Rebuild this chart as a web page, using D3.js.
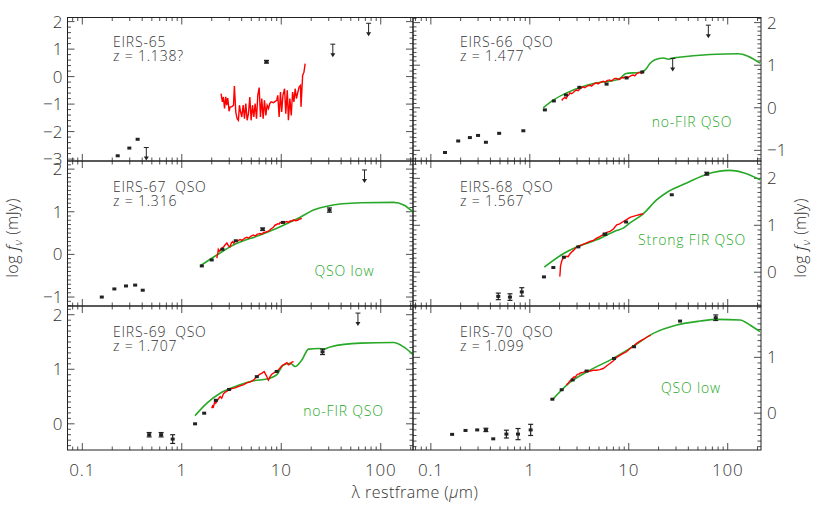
<!DOCTYPE html>
<html lang="en">
<head>
<meta charset="UTF-8">
<title>EIRS QSO SEDs</title>
<script src="https://d3js.org/d3.v7.min.js"></script>
<style>
  body { margin: 0; background: #fff; }
  svg { display: block; }
  text { font-family: "Open Sans", "DejaVu Sans", sans-serif; font-weight: 300; fill: #333; white-space: pre; }
</style>
</head>
<body>
<svg id="chart" width="817" height="523"></svg>
<script>
// ---- data (wavelength in micron, log f_nu in mJy) ----
const names = ["EIRS-65", "EIRS-66  QSO", "EIRS-67  QSO", "EIRS-68  QSO", "EIRS-69  QSO", "EIRS-70  QSO"];
const redshifts = ["z = 1.138?", "z = 1.477", "z = 1.316", "z = 1.567", "z = 1.707", "z = 1.099"];
const modelNames = [null, "no-FIR QSO", "QSO low", "Strong FIR QSO", "no-FIR QSO", "QSO low"];
const yDomains = [[-3.07, 2.15], [-1.25, 2.12], [-1.21, 2.19], [-0.72, 2.37], [-0.48, 2.16], [-0.66, 1.92]];
const yLabels = [[2, 1, 0, -1, -2, -3], [2, 1, 0, -1], [2, 1, 0, -1], [2, 1, 0], [2, 1, 0], [1, 0]];
const yMinor = [0.2, 0.1, 0.1, 0.1, 0.1, 0.1];
const xTickLabels = ["0.1", "1", "10", "100"];

// photometry
const photLam65 = [0.227, 0.297, 0.36, 7.1];
const photVal65 = [-2.88, -2.60, -2.28, 0.54];
const photErr65 = [0, 0, 0, 0.05];
const limLam65 = [0.44, 33, 75.5];
const limVal65 = [-2.58, 1.18, 1.94];

const photLam66 = [0.139, 0.189, 0.248, 0.30, 0.36, 0.49, 0.86, 1.42, 1.75, 2.32, 3.17, 5.97, 9.5, 13.7];
const photVal66 = [-1.05, -0.78, -0.70, -0.65, -0.81, -0.60, -0.54, -0.05, 0.16, 0.30, 0.48, 0.555, 0.70, 0.84];
const photErr66 = [0, 0, 0, 0, 0, 0, 0, 0, 0, 0, 0, 0, 0, 0];
const limLam66 = [27.8, 63.7];
const limVal66 = [1.16, 1.94];

const photLam67 = [0.157, 0.21, 0.275, 0.34, 0.405, 1.59, 2.0, 2.56, 3.49, 6.5, 10.4, 30.5];
const photVal67 = [-1.0, -0.81, -0.74, -0.72, -0.84, -0.27, -0.13, 0.12, 0.32, 0.59, 0.75, 1.04];
const photErr67 = [0, 0, 0, 0, 0, 0, 0, 0, 0, 0.03, 0, 0.05];
const limLam67 = [68.7];
const limVal67 = [1.98];

const photLam68 = [0.48, 0.63, 0.83, 1.39, 1.73, 2.21, 3.09, 5.75, 9.4, 27.2, 61.4];
const photVal68 = [-0.515, -0.53, -0.42, -0.10, 0.10, 0.32, 0.54, 0.81, 1.07, 1.65, 2.10];
const photErr68 = [0.07, 0.07, 0.09, 0, 0, 0, 0, 0.02, 0, 0, 0.03];
const limLam68 = [];
const limVal68 = [];

const photLam69 = [0.47, 0.62, 0.81, 1.36, 1.68, 2.2, 2.99, 5.68, 9.0, 26];
const photVal69 = [-0.20, -0.20, -0.28, 0.0, 0.195, 0.43, 0.63, 0.865, 0.96, 1.32];
const photErr69 = [0.04, 0.04, 0.08, 0, 0, 0, 0, 0, 0, 0.05];
const limLam69 = [59];
const limVal69 = [2.03];

const photLam70 = [0.164, 0.224, 0.294, 0.36, 0.427, 0.58, 0.76, 1.02, 1.69, 2.1, 2.71, 3.76, 7.1, 11.3, 33, 75.7];
const photVal70 = [-0.38, -0.31, -0.30, -0.30, -0.46, -0.375, -0.375, -0.30, 0.25, 0.42, 0.595, 0.755, 0.98, 1.19, 1.65, 1.71];
const photErr70 = [0, 0, 0, 0.03, 0, 0.07, 0.1, 0.1, 0, 0, 0, 0, 0, 0, 0, 0.05];
const limLam70 = [];
const limVal70 = [];

// IRS spectra (red)
const specLam65 = [2.48, 2.56, 2.62, 2.69, 2.77, 2.83, 2.90, 2.99, 3.06, 3.18, 3.31, 3.38, 3.49, 3.60, 3.71, 3.80, 3.89, 4.01,
  4.14, 4.27, 4.40, 4.54, 4.68, 4.83, 4.98, 5.14, 5.30, 5.46, 5.64, 5.81, 6.00, 6.18, 6.37, 6.58, 6.78, 7.00, 7.21, 7.44,
  7.67, 7.91, 8.35, 8.68, 9.02, 9.23, 9.52, 9.82, 10.1, 10.4, 10.8, 11.1, 11.5, 11.8, 12.2, 12.6, 13.0, 13.4, 13.8, 14.2,
  14.7, 15.1, 15.6, 15.8, 16.4, 16.9, 17.4];
const specVal65 = [-0.62, -0.92, -0.74, -1.16, -0.74, -1.04, -0.78, -1.26, -1.10, -1.10, -1.04, -0.34, -1.29, -1.53, -1.59,
  -1.04, -1.26, -1.47, -1.04, -1.53, -0.98, -1.59, -1.35, -0.74, -1.59, -1.04, -1.47, -0.98, -1.53, -0.68, -0.40, -1.47,
  -0.80, -1.53, -0.86, -1.41, -1.04, -1.16, -0.98, -0.92, -0.95, -0.90, -0.86, -0.68, -1.47, -0.56, -1.29, -0.68, -0.44,
  -1.35, -0.50, -1.59, -0.80, -1.41, -0.56, -0.92, -0.44, -0.80, -0.56, -0.38, -0.32, -1.10, 0.04, 0.16, 0.47];
const specLam66 = [2.10, 2.18, 2.25, 2.33, 2.40, 2.47, 2.54, 2.64, 2.75, 2.86, 2.97, 3.08, 3.20, 3.33, 3.47, 3.6, 3.75, 3.9, 4.05, 4.2, 4.40, 4.55, 4.73, 4.9, 5.10, 5.3, 5.52, 5.75, 6.0, 6.2, 6.46, 6.7, 7.0, 7.25, 7.55, 7.9, 8.2, 8.5, 8.8, 9.1, 9.5, 9.9, 10.3, 10.7, 11.1, 11.5, 12.0, 12.5, 13.0, 13.5, 14.0];
const specVal66 = [0.17, 0.22, 0.24, 0.22, 0.28, 0.30, 0.35, 0.33, 0.36, 0.40, 0.415, 0.40, 0.44, 0.47, 0.49, 0.47, 0.50, 0.52, 0.53, 0.51, 0.55, 0.57, 0.585, 0.56, 0.59, 0.61, 0.625, 0.60, 0.63, 0.65, 0.65, 0.63, 0.67, 0.69, 0.69, 0.66, 0.68, 0.71, 0.70, 0.72, 0.73, 0.71, 0.74, 0.76, 0.77, 0.75, 0.80, 0.82, 0.83, 0.81, 0.86];
const specLam67 = [2.25, 2.30, 2.33, 2.40, 2.45, 2.53, 2.62, 2.72, 2.84, 2.95, 3.06, 3.15, 3.25, 3.34, 3.44, 3.6, 3.86, 4.0, 4.20, 4.35, 4.51, 4.7, 4.9, 5.1, 5.25, 5.5, 5.7, 5.9, 6.14, 6.4, 6.6, 6.9, 7.16, 7.5, 7.9, 8.3, 8.69, 9.0, 9.2, 9.5, 9.75, 10.1, 10.5, 11.0, 11.4, 11.9, 12.3, 12.8, 13.3, 13.9, 14.6, 15.3, 16.1];
const specVal67 = [-0.09, 0.02, 0.12, 0.08, 0.10, 0.15, 0.17, 0.22, 0.27, 0.20, 0.18, 0.27, 0.30, 0.26, 0.32, 0.31, 0.35, 0.33, 0.36, 0.39, 0.40, 0.38, 0.42, 0.44, 0.455, 0.43, 0.47, 0.48, 0.49, 0.47, 0.51, 0.52, 0.53, 0.55, 0.60, 0.63, 0.69, 0.70, 0.72, 0.71, 0.75, 0.73, 0.74, 0.76, 0.77, 0.75, 0.79, 0.78, 0.81, 0.79, 0.80, 0.83, 0.845];
const specLam68 = [2.01, 2.03, 2.04, 2.09, 2.14, 2.24, 2.35, 2.44, 2.54, 2.65, 2.75, 2.86, 2.97, 3.2, 3.4, 3.7, 4.05, 4.4, 4.7, 5.1, 5.52, 6.0, 6.46, 7.0, 7.55, 8.1, 8.8, 9.5, 10.3, 11.1, 12.0, 13.0, 14.0];
const specVal68 = [-0.09, 0.02, 0.12, 0.22, 0.28, 0.31, 0.34, 0.33, 0.39, 0.43, 0.46, 0.50, 0.536, 0.56, 0.59, 0.62, 0.655, 0.68, 0.72, 0.76, 0.80, 0.85, 0.87, 0.92, 1.01, 1.03, 1.08, 1.12, 1.17, 1.19, 1.21, 1.23, 1.245];
const specLam69 = [2.0, 2.04, 2.08, 2.12, 2.16, 2.2, 2.25, 2.34, 2.43, 2.52, 2.62, 2.73, 2.85, 2.95, 3.06, 3.25, 3.45, 3.65, 3.86, 4.2, 4.5, 4.9, 5.25, 5.5, 5.7, 5.9, 6.14, 6.4, 6.73, 6.9, 7.1, 7.25, 7.43, 7.7, 8.03, 8.5, 9.04, 9.5, 10.1, 10.7, 11.4, 11.8, 12.3, 12.8, 13.3];
const specVal69 = [0.287, 0.33, 0.31, 0.37, 0.426, 0.38, 0.41, 0.46, 0.50, 0.47, 0.55, 0.58, 0.60, 0.62, 0.634, 0.65, 0.66, 0.68, 0.695, 0.72, 0.75, 0.77, 0.80, 0.84, 0.86, 0.89, 0.91, 0.93, 0.96, 0.92, 0.88, 0.84, 0.80, 0.86, 0.91, 0.94, 0.96, 1.0, 1.06, 1.09, 1.12, 1.08, 1.10, 1.13, 1.14];
const specLam70 = [2.35, 2.42, 2.50, 2.58, 2.65, 2.72, 2.80, 2.88, 2.97, 3.06, 3.15, 3.24, 3.34, 3.45, 3.55, 3.65, 3.76, 4.0, 4.2, 4.45, 4.73, 5.1, 5.52, 6.0, 6.46, 7.0, 7.55, 8.2, 8.8, 9.5, 10.3, 11.1, 12.0, 13.0, 14.0, 15.2, 16.6];
const specVal70 = [0.505, 0.53, 0.56, 0.59, 0.595, 0.63, 0.65, 0.64, 0.68, 0.70, 0.70, 0.72, 0.725, 0.73, 0.74, 0.76, 0.755, 0.75, 0.76, 0.77, 0.77, 0.78, 0.80, 0.85, 0.89, 0.94, 1.0, 1.04, 1.07, 1.10, 1.16, 1.20, 1.25, 1.29, 1.32, 1.36, 1.40];

// QSO templates (green)
const modelLam66 = [1.366, 1.725, 2.355, 3.21, 4.74, 6.46, 8.15, 9.38, 12.97, 14.59, 16.37, 18.41, 22.3, 25.1, 28.2, 30.5, 66.2, 128, 212];
const modelVal66 = [0.0, 0.18, 0.35, 0.477, 0.586, 0.625, 0.688, 0.805, 0.836, 0.883, 1.04, 1.13, 1.17, 1.14, 1.17, 1.18, 1.25, 1.27, 1.05];
const modelLam67 = [1.53, 2.25, 3.30, 6.14, 9.75, 15.5, 21.1, 28.8, 62.2, 134.6, 170, 214];
const modelVal67 = [-0.27, -0.014, 0.22, 0.455, 0.65, 0.87, 1.04, 1.13, 1.21, 1.22, 1.16, 0.985];
const modelLam68 = [1.40, 2.18, 2.97, 4.73, 7.55, 8.8, 10.3, 14.0, 19.1, 25.1, 38.5, 61.4, 105, 144, 212];
const modelVal68 = [0.11, 0.394, 0.536, 0.69, 0.89, 0.94, 1.05, 1.245, 1.54, 1.72, 1.90, 2.09, 2.17, 2.12, 1.97];
const modelLam69 = [1.36, 1.79, 2.43, 3.30, 5.25, 7.16, 9.04, 10.5, 12.3, 13.8, 16.1, 18.8, 23.7, 26.6, 31.0, 62.2, 134.6, 170, 214];
const modelVal69 = [0.15, 0.38, 0.56, 0.67, 0.79, 0.82, 0.90, 1.08, 1.11, 1.05, 1.17, 1.37, 1.38, 1.37, 1.41, 1.48, 1.49, 1.41, 1.26];
const modelLam70 = [1.69, 2.54, 4.05, 6.46, 10.3, 17.7, 30.5, 52.5, 77.4, 133, 168, 212];
const modelVal70 = [0.24, 0.55, 0.77, 0.95, 1.16, 1.43, 1.58, 1.65, 1.68, 1.67, 1.58, 1.46];

const zip = (a, b) => a.map((v, i) => [v, b[i]]);
const panels = [
  { phot: zip(photLam65, photVal65), err: photErr65, lim: zip(limLam65, limVal65), spec: zip(specLam65, specVal65), model: [] },
  { phot: zip(photLam66, photVal66), err: photErr66, lim: zip(limLam66, limVal66), spec: zip(specLam66, specVal66), model: zip(modelLam66, modelVal66) },
  { phot: zip(photLam67, photVal67), err: photErr67, lim: zip(limLam67, limVal67), spec: zip(specLam67, specVal67), model: zip(modelLam67, modelVal67) },
  { phot: zip(photLam68, photVal68), err: photErr68, lim: zip(limLam68, limVal68), spec: zip(specLam68, specVal68), model: zip(modelLam68, modelVal68) },
  { phot: zip(photLam69, photVal69), err: photErr69, lim: zip(limLam69, limVal69), spec: zip(specLam69, specVal69), model: zip(modelLam69, modelVal69) },
  { phot: zip(photLam70, photVal70), err: photErr70, lim: zip(limLam70, limVal70), spec: zip(specLam70, specVal70), model: zip(modelLam70, modelVal70) }
];

// ---- layout ----
const colX = [[67.5, 413], [413, 761]];
const rowY = [[17.5, 161], [161, 306], [306, 450]];
const xDomains = [[0.071, 211], [0.066, 217]];
// model label centre, relative to panel's top-left corner
const modelLabelPos = [null, [279, 109], [277, 115], [279, 84], [276, 110], [278, 87]];

const svg = d3.select("#chart");
const green = "#27a827", red = "#ff0000", ink = "#222";

panels.forEach((p, i) => {
  const col = i % 2, row = Math.floor(i / 2);
  const [x0, x1] = colX[col], [y0, y1] = rowY[row];
  const x = d3.scaleLog().domain(xDomains[col]).range([x0, x1]);
  const y = d3.scaleLinear().domain(yDomains[i]).range([y1, y0]);
  const g = svg.append("g");

  // frame
  g.append("rect")
    .attr("x", x0).attr("y", y0).attr("width", x1 - x0).attr("height", y1 - y0)
    .attr("fill", "none").attr("stroke", ink).attr("stroke-width", 1);

  // x ticks (log), inward on top and bottom
  x.ticks().forEach(t => {
    const major = Math.abs(Math.log10(t) - Math.round(Math.log10(t))) < 1e-6;
    const len = major ? 7 : 3.5;
    const px = x(t);
    g.append("line").attr("x1", px).attr("x2", px).attr("y1", y1).attr("y2", y1 - len)
      .attr("stroke", ink).attr("stroke-width", 0.8);
    g.append("line").attr("x1", px).attr("x2", px).attr("y1", y0).attr("y2", y0 + len)
      .attr("stroke", ink).attr("stroke-width", 0.8);
  });

  // y ticks, inward on both sides
  const [lo, hi] = yDomains[i], step = yMinor[i];
  d3.range(Math.ceil(lo / step), Math.floor(hi / step) + 1).forEach(k => {
    const v = +(k * step).toFixed(3);
    const major = Math.abs(v - Math.round(v)) < 1e-6;
    const len = major ? 7 : 3.5;
    const py = y(v);
    g.append("line").attr("x1", x0).attr("x2", x0 + len).attr("y1", py).attr("y2", py)
      .attr("stroke", ink).attr("stroke-width", 0.8);
    g.append("line").attr("x1", x1).attr("x2", x1 - len).attr("y1", py).attr("y2", py)
      .attr("stroke", ink).attr("stroke-width", 0.8);
  });

  // y tick labels
  yLabels[i].forEach(v => {
    g.append("text")
      .attr("x", col ? x1 + 6 : x0 - 5)
      .attr("y", y(v) + 6)
      .attr("text-anchor", col ? "start" : "end")
      .attr("font-size", 17)
      .text(v < 0 ? "\u2212" + Math.abs(v) : v);
  });

  // x tick labels on bottom row
  if (row === 2) {
    [0.1, 1, 10, 100].forEach((t, k) => {
      g.append("text").attr("x", x(t)).attr("y", 476)
        .attr("text-anchor", "middle").attr("font-size", 17).attr("letter-spacing", 0.8)
        .text(xTickLabels[k]);
    });
  }

  const line = d3.line().x(d => x(d[0])).y(d => y(d[1]));

  // green template
  if (p.model.length) {
    g.append("path").datum(p.model).attr("d", line.curve(d3.curveMonotoneX))
      .attr("fill", "none").attr("stroke", green).attr("stroke-width", 1.6);
  }
  // red spectrum
  g.append("path").datum(p.spec).attr("d", d3.line().x(d => x(d[0])).y(d => y(d[1])))
    .attr("fill", "none").attr("stroke", red).attr("stroke-width", 1.4);

  // photometry with error bars
  p.phot.forEach((d, k) => {
    const px = x(d[0]), py = y(d[1]), e = p.err[k];
    if (e > 0) {
      const ya = y(d[1] + e), yb = y(d[1] - e);
      g.append("line").attr("x1", px).attr("x2", px).attr("y1", ya).attr("y2", yb)
        .attr("stroke", ink).attr("stroke-width", 1.2);
      [ya, yb].forEach(yy => g.append("line").attr("x1", px - 2.5).attr("x2", px + 2.5)
        .attr("y1", yy).attr("y2", yy).attr("stroke", ink).attr("stroke-width", 1.2));
    }
    g.append("rect").attr("x", px - 2).attr("y", py - 1.5).attr("width", 4).attr("height", 3)
      .attr("fill", ink);
  });

  // upper limits
  p.lim.forEach(d => {
    const px = x(d[0]), py = y(d[1]);
    g.append("line").attr("x1", px - 2.5).attr("x2", px + 2.5).attr("y1", py).attr("y2", py)
      .attr("stroke", ink).attr("stroke-width", 1);
    g.append("line").attr("x1", px).attr("x2", px).attr("y1", py).attr("y2", py + 11)
      .attr("stroke", ink).attr("stroke-width", 1);
    g.append("path").attr("d", `M${px - 2.5},${py + 9}L${px + 2.5},${py + 9}L${px},${py + 13}Z`)
      .attr("fill", ink);
  });

  // labels
  const tx = x0 + (col ? 47 : 45.5);
  g.append("text").attr("x", tx).attr("y", y0 + (row ? 31 : 29.5))
    .attr("font-size", 14).attr("letter-spacing", 0.8).text(names[i]);
  g.append("text").attr("x", tx).attr("y", y0 + (row ? 45 : 43.5))
    .attr("font-size", 14).attr("letter-spacing", 0.8).text(redshifts[i]);
  if (modelNames[i]) {
    g.append("text").attr("x", x0 + modelLabelPos[i][0]).attr("y", y0 + modelLabelPos[i][1])
      .attr("text-anchor", "middle").attr("font-size", 14).attr("letter-spacing", 0.8)
      .style("fill", green).text(modelNames[i]);
  }
});

// axis titles
svg.append("text").attr("x", 415).attr("y", 498).attr("text-anchor", "middle")
  .attr("font-size", 16).attr("letter-spacing", 0.5)
  .html("\u03bb restframe (<tspan font-style='italic'>\u03bc</tspan>m)");
[18, 806].forEach(cx => {
  svg.append("text").attr("transform", `translate(${cx},238) rotate(-90)`)
    .attr("text-anchor", "middle").attr("font-size", 16).attr("letter-spacing", 0.5)
    .html("log <tspan font-style='italic'>f</tspan><tspan font-size='11' dy='4' font-style='italic'>\u03bd</tspan><tspan dy='-4'> (mJy)</tspan>");
});
</script>
</body>
</html>
